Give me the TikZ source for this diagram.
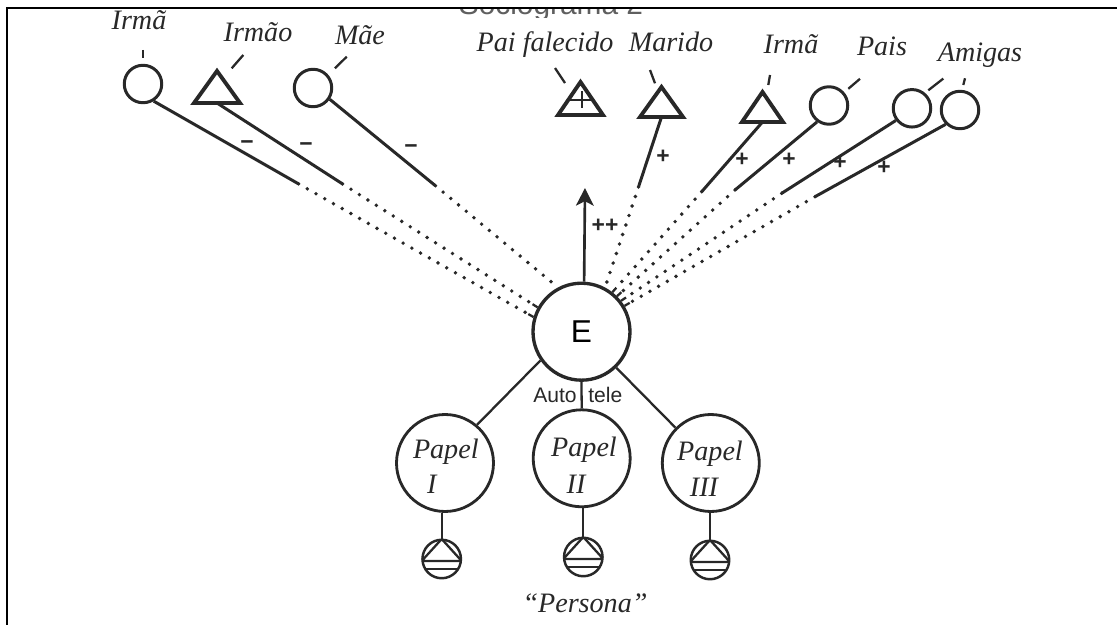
\documentclass[tikz,border=0pt]{standalone}
\usepackage{fontspec}
\setmainfont{Liberation Serif}
\newfontfamily\sansf{Liberation Sans}
\usetikzlibrary{calc,arrows.meta}
\definecolor{ink}{RGB}{40,40,40}
\definecolor{hdr}{RGB}{95,95,95}
\tikzset{
  lab/.style={font=\fontsize{16}{19}\selectfont\itshape, text=ink, inner sep=0pt, anchor=base},
  ring/.style={circle, draw=ink, line width=1.7pt, minimum size=0.75cm, inner sep=0pt},
  bigring/.style={circle, draw=ink, line width=1.9pt, minimum size=1.94cm, inner sep=0pt},
  papring/.style={circle, draw=ink, line width=1.6pt, minimum size=1.94cm, inner sep=0pt},
  triline/.style={draw=ink, line width=2.2pt, line join=miter},
  con/.style={draw=ink, line width=1.7pt},
  thinline/.style={draw=ink, line width=1.3pt},
  dots/.style={draw=ink, line width=2.2pt, line cap=round, dash pattern=on 0pt off 5.7pt},
  leader/.style={draw=ink, line width=1.3pt},
  sign/.style={font=\sansf\bfseries\fontsize{13}{15}\selectfont, text=ink, inner sep=0pt},
  pap/.style={font=\fontsize{16}{19}\selectfont\itshape, text=ink, inner sep=0pt, anchor=base},
  roletext/.style={font=\sansf\fontsize{12}{14}\selectfont, text=ink, inner sep=0pt},
  sym/.style={circle, draw=ink, line width=1.4pt, minimum size=0.77cm, inner sep=0pt,
    path picture={\begin{scope}[shift={(path picture bounding box.center)}]
      \draw[ink, line width=1.3pt, line join=miter] (0,-20) -- (-20,2) -- (20,2) -- cycle;
      \draw[ink, line width=1.3pt] (-20,10) -- (20,10);
    \end{scope}}},
  pics/tri/.style args={#1/#2}{code={
    \draw[triline] (-#1,#2) -- (0,-#2) -- (#1,#2) -- cycle;
    \coordinate (-base) at (0,#2);
    \coordinate (-c) at (0,0);}}
}
\begin{document}
\begin{tikzpicture}[x=0.02cm, y=-0.02cm]
\useasboundingbox (0,0) rectangle (1117,625);
\fill[white] (0,0) rectangle (1117,625);

% cut-off heading (only the lower edge of its letters shows under the frame line)
\begin{scope}
  \clip (440,0) rectangle (680,18);
  \node[font=\sansf\fontsize{17}{20}\selectfont, text=hdr, inner sep=0pt, anchor=base] (hdr) at (551,14.5) {Sociograma 2};
\end{scope}
\fill[white] (440,0) rectangle (680,7.5);

% frame
\draw[black, line width=1.3pt] (6.8,625) -- (6.8,7.8) -- (1117,7.8);

% top symbols
\node[ring] (irmaL) at (143,84) {};
\pic (irmao) at (217,87) {tri=23/16};
\node[ring] (mae) at (313,88) {};
\pic (pai) at (580.5,98.5) {tri=22.5/16.5};
\draw[triline, line width=1.7pt] ($(pai-c)+(-12.3,1.5)$) -- ($(pai-c)+(12.3,1.5)$);
\draw[triline, line width=1.7pt] ($(pai-c)+(1.5,-7)$) -- ($(pai-c)+(1.5,10)$);
\pic (marido) at (661.5,102) {tri=21.5/15};
\pic (irmaR) at (762.5,107) {tri=20.5/15};
\node[ring] (pais) at (829,105.5) {};
\node[ring] (amigaA) at (912,108.3) {};
\node[ring] (amigaB) at (960,110) {};

% labels
\node[lab] (lIrmaL) at (139,30) {Irmã};
\node[lab] (lIrmao) at (258,42) {Irmão};
\node[lab] (lMae) at (360,45) {Mãe};
\node[lab] (lPai) at (545,52) {Pai falecido};
\node[lab] (lMarido) at (671,52) {Marido};
\node[lab] (lIrmaR) at (791,54) {Irmã};
\node[lab] (lPais) at (882,56) {Pais};
\node[lab] (lAmigas) at (980,62) {Amigas};

% leader ticks
\draw[leader] ($(irmaL)+(0,-34)$) -- ($(irmaL)+(0,-26)$);
\draw[leader] ($(irmao-c)+(26.3,-32)$) -- ($(irmao-c)+(14.7,-18.7)$);
\draw[leader] ($(mae)+(33.7,-31.3)$) -- ($(mae)+(22,-19.7)$);
\draw[leader] ($(pai-c)+(-25.5,-30.5)$) -- ($(pai-c)+(-15.5,-15.5)$);
\draw[leader] ($(marido-c)+(-11.5,-32)$) -- ($(marido-c)+(-6.5,-18.7)$);
\draw[leader] ($(irmaR-c)+(7.5,-32)$) -- ($(irmaR-c)+(5.8,-22)$);
\draw[leader] ($(pais)+(31,-26.7)$) -- ($(pais)+(19.3,-16.7)$);
\draw[leader] ($(amigaA)+(31.3,-29.7)$) -- ($(amigaA)+(16.3,-18)$);
\draw[leader] ($(amigaB)+(5,-31.7)$) -- ($(amigaB)+(3.3,-25)$);

% ego and roles
\node[bigring] (E) at (581.5,331.7) {\sansf\fontsize{18}{20}\selectfont E};
\node[papring] (p1) at (445,463) {};
\node[papring] (p2) at (581.7,458.3) {};
\node[papring] (p3) at (710.8,463) {};
\node[pap] (p1a) at (445.8,458.3) {Papel};
\node[pap] (p1b) at (431.7,493.3) {I};
\node[pap] (p2a) at (584,456.7) {Papel};
\node[pap] (p2b) at (576,493.3) {II};
\node[pap] (p3a) at (710,460) {Papel};
\node[pap] (p3b) at (704,496.7) {III};
\node[sym] (s1) at (441.7,559) {};
\node[sym] (s2) at (583.3,557) {};
\node[sym] (s3) at (710,560) {};
\node[pap] (persona) at (585,612) {“Persona”};
\node[roletext, anchor=base east] (auto) at (577,402) {Auto};
\node[roletext, anchor=base west] (tele) at (588,402) {tele};

\draw[thinline] (E.215) -- (p1.50);
\draw[thinline] (E.south) -- (p2.north);
\draw[thinline] (E.-46) -- (p3.135);
\draw[thinline] (s1.north) -- (s1.north |- p1.south);
\draw[thinline] (s2.north) -- (s2.north |- p2.south);
\draw[thinline] (s3.north) -- (s3.north |- p3.south);

% arrow up
\coordinate (up) at (585,188);
\draw[con, line width=1.5pt, -{Stealth[length=10pt,width=10pt,inset=2.5pt]}] (E.87) -- (up);
\node[sign] (pp) at (605,226) {++};

% negative relations
\coordinate (sA) at (298.6,183.9);
\coordinate (sB) at (342.5,183.9);
\coordinate (sC) at (435.4,185.7);
\draw[con] (irmaL.-58) -- (sA);
\draw[dots] (sA) -- ($(E.163)!0.14cm!(sA)$);
\draw[thinline] (E.163) -- ($(E.163)!0.12cm!(sA)$);
\draw[con] (irmao-base) -- (sB);
\draw[dots] (sB) -- ($(E.151)!0.14cm!(sB)$);
\draw[thinline] (E.151) -- ($(E.151)!0.12cm!(sB)$);
\draw[con] (mae.-34) -- (sC);
\draw[dots] (sC) -- (E.118);
\node[sign] (n1) at (247,145) {−};
\node[sign] (n2) at (306,147) {−};
\node[sign] (n3) at (411,149) {−};

% positive relations
\coordinate (sD) at (638.5,187);
\coordinate (sE) at (701.7,191.7);
\coordinate (sF) at (735,190);
\coordinate (sG) at (781.7,193.3);
\coordinate (sH) at (815,196.7);
\draw[con] (marido-base) -- (sD);
\draw[dots] (sD) -- (E.62);
\draw[con] (irmaR-base) -- (sE);
\draw[dots] (sE) -- ($(E.52)!0.14cm!(sE)$);
\draw[thinline] (E.52) -- ($(E.52)!0.12cm!(sE)$);
\draw[con] (pais.234) -- (sF);
\draw[dots] (sF) -- ($(E.45)!0.14cm!(sF)$);
\draw[thinline] (E.45) -- ($(E.45)!0.12cm!(sF)$);
\draw[con] (amigaA.217) -- (sG);
\draw[dots] (sG) -- ($(E.38)!0.14cm!(sG)$);
\draw[thinline] (E.38) -- ($(E.38)!0.12cm!(sG)$);
\draw[con] (amigaB.225) -- (sH);
\draw[dots] (sH) -- ($(E.31)!0.14cm!(sH)$);
\draw[thinline] (E.31) -- ($(E.31)!0.12cm!(sH)$);
\node[sign] (q1) at (663,157) {+};
\node[sign] (q2) at (742,160) {+};
\node[sign] (q3) at (789,160) {+};
\node[sign] (q4) at (840,163) {+};
\node[sign] (q5) at (884,168) {+};
\end{tikzpicture}
\end{document}
